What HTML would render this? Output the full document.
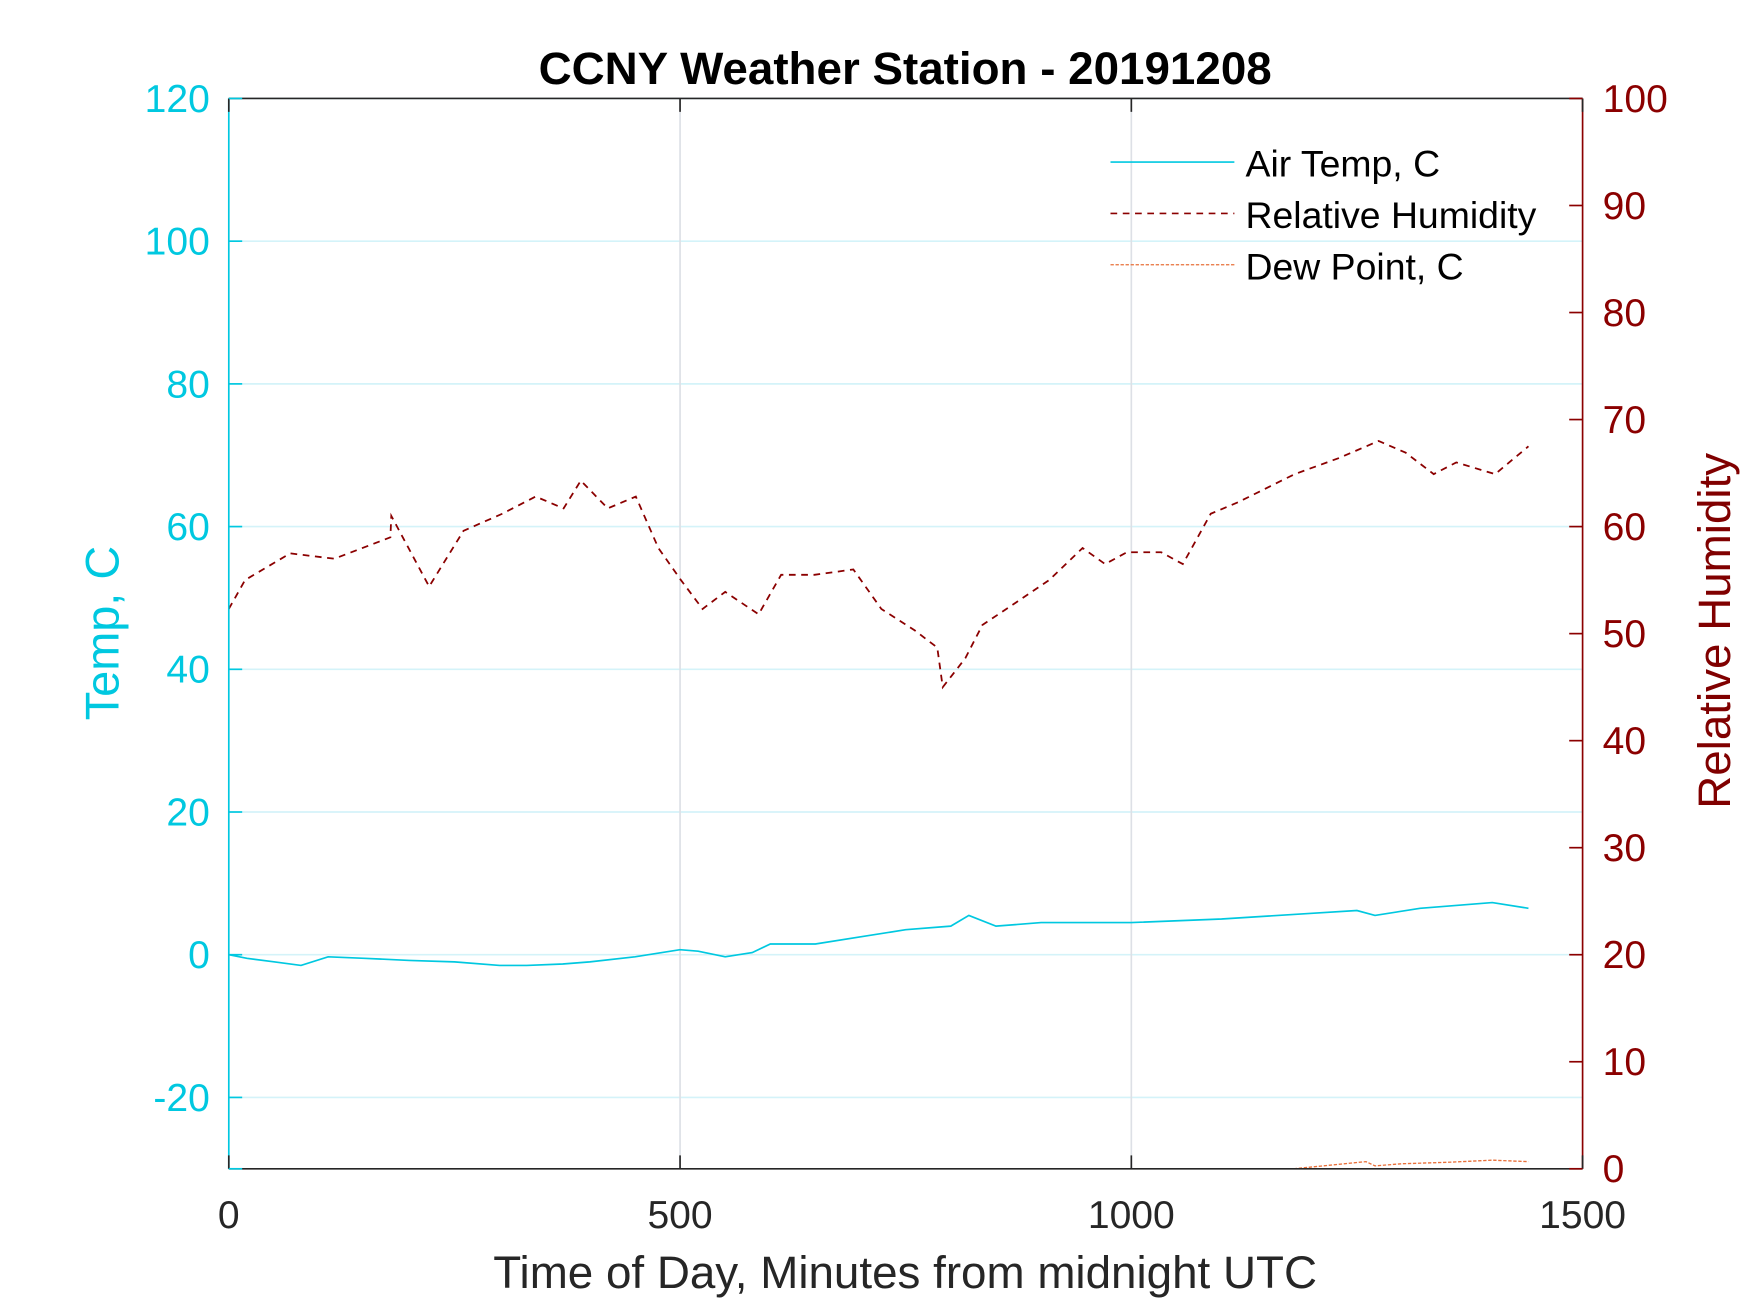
<!DOCTYPE html>
<html><head><meta charset="utf-8"><style>
html,body{margin:0;padding:0;background:#fff;}
svg{display:block;font-family:"Liberation Sans",Arial,sans-serif;}
</style></head><body>
<svg id="chart" width="1750" height="1313" viewBox="0 0 1568 1176" xmlns="http://www.w3.org/2000/svg">
<rect width="1568" height="1176" fill="#fff"/>
<g id="grid"></g>
<g id="series"></g>
<g id="axes"></g>
<text x="811" y="75" text-anchor="middle" font-size="41" font-weight="bold" fill="#000">CCNY Weather Station - 20191208</text>
<text x="811" y="1154" text-anchor="middle" font-size="41" fill="#262626">Time of Day, Minutes from midnight UTC</text>
<text transform="translate(106,567) rotate(-90)" text-anchor="middle" font-size="42" fill="#00c8e0">Temp, C</text>
<text transform="translate(1550,565) rotate(-90)" text-anchor="middle" font-size="41" fill="#800000">Relative Humidity</text>
<g>
<line x1="995" y1="145" x2="1106" y2="145" stroke="#00c8e0" stroke-width="1.5"/>
<text x="1116" y="158" font-size="33.5" fill="#000">Air Temp, C</text>
<line x1="995" y1="191" x2="1106" y2="191" stroke="#8b0000" stroke-width="1.5" stroke-dasharray="6,5"/>
<text x="1116" y="204" font-size="33.5" fill="#000">Relative Humidity</text>
<line x1="995" y1="237" x2="1106" y2="237" stroke="#e8703a" stroke-width="1.2" stroke-dasharray="3,1.5"/>
<text x="1116" y="250" font-size="33.5" fill="#000">Dew Point, C</text>
</g>
</svg>
<script>
const xTicks=[0,500,1000,1500];
const leftTicks=[-20,0,20,40,60,80,100,120];
const rightTicks=[0,10,20,30,40,50,60,70,80,90,100];
const tempMin=[0,20,50,80,110,150,200,250,300,330,370,400,450,500,520,550,580,600,650,700,750,800,820,850,900,1000,1100,1200,1250,1270,1320,1400,1440];
const tempVal=[0,-0.5,-1,-1.5,-0.3,-0.5,-0.8,-1,-1.5,-1.5,-1.3,-1,-0.3,0.7,0.5,-0.3,0.3,1.5,1.5,2.5,3.5,4,5.5,4,4.5,4.5,5,5.8,6.2,5.5,6.5,7.3,6.5];
const rhMin=[0,18,68,117,179,180,222,260,303,340,371,390,420,451,476,501,525,550,587,612,649,692,723,760,785,791,816,835,872,909,946,971,995,1033,1057,1088,1119,1181,1230,1274,1304,1335,1360,1403,1440];
const rhVal=[52.3,55,57.5,57,59,61,54.4,59.6,61.2,62.8,61.7,64.3,61.7,62.8,58,55,52.3,53.9,51.8,55.5,55.5,56,52.3,50.3,48.7,45,47.7,50.8,52.9,55,58,56.5,57.6,57.6,56.5,61.2,62.3,64.9,66.4,68,66.9,64.9,66,64.9,67.5];
const dewMin=[1180,1220,1260,1270,1300,1350,1400,1440];
const dewVal=[-30,-29.5,-29,-29.6,-29.3,-29.1,-28.8,-29];
const L=205,R=1418,T=88,B=1047;
const xs=v=>L+(v-0)/1500*(R-L);
const yl=v=>B-(v+30)/150*(B-T);
const yr=v=>B-v/100*(B-T);
const NS='http://www.w3.org/2000/svg';
function mk(tag,attrs,parent){const e=document.createElementNS(NS,tag);for(const k in attrs)e.setAttribute(k,attrs[k]);document.getElementById(parent).appendChild(e);return e;}
leftTicks.forEach(v=>{const g=mk('line',{x1:L,x2:R,y1:yl(v),y2:yl(v),stroke:'#d4f3f9','stroke-width':1.5},'grid');

});
xTicks.slice(1,3).forEach(v=>{const g=mk('line',{x1:xs(v),x2:xs(v),y1:T,y2:B,stroke:'#dde0e6','stroke-width':1.5},'grid');

});
function path(mins,vals,yf){return mins.map((m,i)=>(i?'L':'M')+xs(m).toFixed(1)+','+yf(vals[i]).toFixed(1)).join('');}
const p1=mk('path',{d:path(tempMin,tempVal,yl),fill:'none',stroke:'#00c8e0','stroke-width':1.5},'series');


const p2=mk('path',{d:path(rhMin,rhVal,yr),fill:'none',stroke:'#8b0000','stroke-width':1.6,'stroke-dasharray':'6,5'},'series');


const p3=mk('path',{d:path(dewMin,dewVal,yl),fill:'none',stroke:'#e8703a','stroke-width':1.2,'stroke-dasharray':'3,1.5'},'series');


mk('line',{x1:L,x2:R,y1:T,y2:T,stroke:'#262626','stroke-width':1.5},'axes');
mk('line',{x1:L,x2:R,y1:B,y2:B,stroke:'#262626','stroke-width':1.5},'axes');
mk('line',{x1:L,x2:L,y1:T,y2:B,stroke:'#00c8e0','stroke-width':1.5},'axes');
mk('line',{x1:R,x2:R,y1:T,y2:B,stroke:'#8b0000','stroke-width':1.5},'axes');
xTicks.forEach(v=>{mk('line',{x1:xs(v),x2:xs(v),y1:B,y2:B-12,stroke:'#262626','stroke-width':1.5},'axes');
mk('line',{x1:xs(v),x2:xs(v),y1:T,y2:T+12,stroke:'#262626','stroke-width':1.5},'axes');
const t=mk('text',{x:xs(v),y:B+53,'text-anchor':'middle','font-size':35,fill:'#262626'},'axes');t.textContent=v;

});
leftTicks.concat([-30]).forEach(v=>{mk('line',{x1:L,x2:L+12,y1:yl(v),y2:yl(v),stroke:'#00c8e0','stroke-width':1.5},'axes');});
leftTicks.forEach(v=>{const t=mk('text',{x:L-17,y:yl(v)+12,'text-anchor':'end','font-size':35,fill:'#00c8e0'},'axes');t.textContent=v;

});
rightTicks.forEach(v=>{mk('line',{x1:R-12,x2:R,y1:yr(v),y2:yr(v),stroke:'#8b0000','stroke-width':1.5},'axes');
const t=mk('text',{x:R+18,y:yr(v)+12,'text-anchor':'start','font-size':35,fill:'#8b0000'},'axes');t.textContent=v;

});
</script>
</body></html>
